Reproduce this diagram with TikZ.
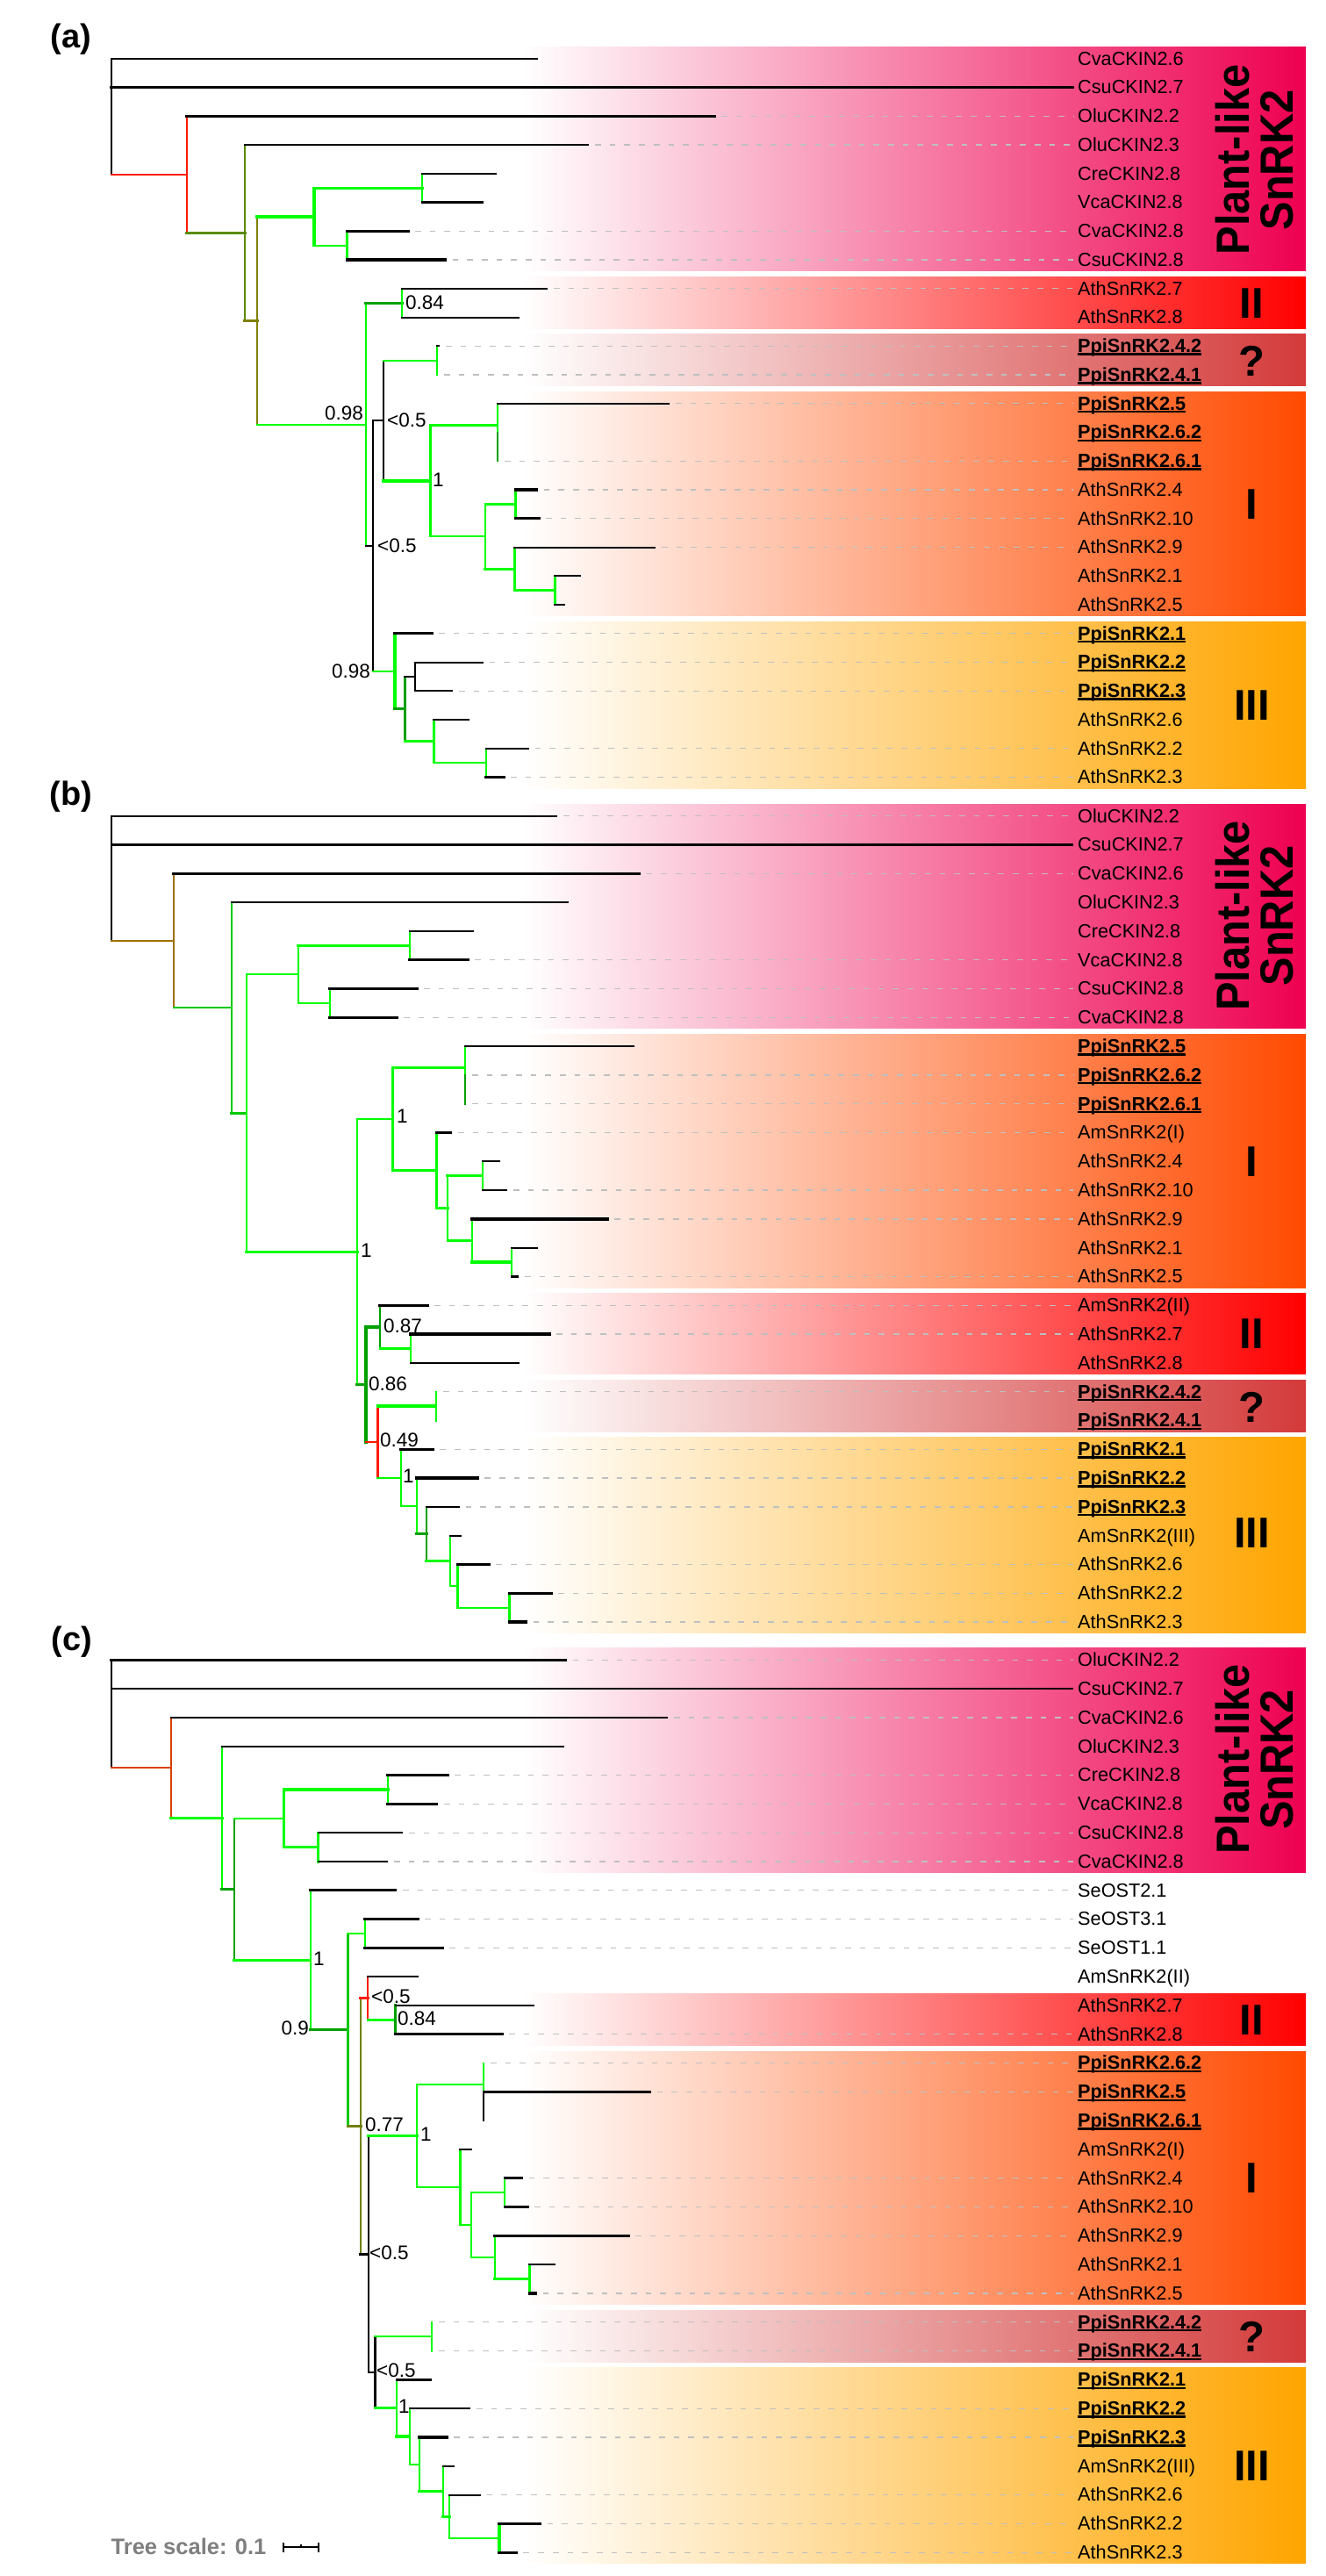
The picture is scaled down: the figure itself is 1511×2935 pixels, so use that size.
\documentclass[tikz,border=0pt]{standalone}
\usepackage{fontspec}
\usepackage{graphicx}
\setmainfont{Liberation Sans}
\definecolor{gB}{HTML}{00FF00}
\definecolor{gM}{HTML}{00C800}
\definecolor{gD}{HTML}{00A000}
\definecolor{rR}{HTML}{FF1A00}
\definecolor{olA}{HTML}{5A8C00}
\definecolor{olB}{HTML}{808000}
\definecolor{olC}{HTML}{708000}
\definecolor{brn}{HTML}{A07000}
\definecolor{orR}{HTML}{D84000}
\definecolor{bPL}{HTML}{EE0050}
\definecolor{bII}{HTML}{FF0000}
\definecolor{bQ}{HTML}{D43A3A}
\definecolor{bI}{HTML}{FF4A00}
\definecolor{bIII}{HTML}{FFA500}
\definecolor{tsg}{HTML}{7F7F7F}
\tikzset{
  br/.style={line width=2.2pt, line cap=rect},
  tk/.style={line width=3.3pt, line cap=rect},
  lbl/.style={anchor=west, inner sep=0pt, text height=14.6pt, text depth=0pt, font=\fontsize{21.7}{22}\selectfont},
  bs/.style={inner sep=0pt, font=\fontsize{22.5}{23}\selectfont},
  dsh/.style={draw=black!25, line width=1.3pt, dash pattern=on 6.7pt off 10pt},
  grp/.style={inner sep=0pt, font=\fontsize{49}{50}\selectfont\bfseries, anchor=base},
  plk/.style={inner sep=0pt, font=\fontsize{53}{54}\selectfont\bfseries, anchor=base, rotate=90},
  pan/.style={inner sep=0pt, font=\fontsize{38}{40}\selectfont\bfseries, anchor=base},
}
\newcommand\Hbr[4]{\draw[#1] (#2,#4) -- (#3,#4);}
\newcommand\Vbr[4]{\draw[#1] (#2,#3) -- (#2,#4);}
\newcommand\ppi[1]{\setbox0\hbox{\bfseries #1}\rlap{\rule[-3.2pt]{\wd0}{2.4pt}}\box0}
\newcommand\leaf[4]{\node[lbl] (#1) at (1228,#2) {#3};\if\relax\detokenize{#4}\relax\else\draw[dsh] ({#4+8},#2) -- ([xshift=-5pt]#1.west);\fi}
\newcommand\band[4]{\shade[left color=white, right color=#1] (596,#2) rectangle (1488,#3);}
\begin{document}
\begin{tikzpicture}[x=1pt,y=-1pt]
\fill[white] (0,0) rectangle (1511,2935);
\useasboundingbox (0,0) rectangle (1511,2935);
% ================= bands
\band{bPL}{53.3}{308.6}{}
\band{bII}{315.3}{374.1}{}
\band{bQ}{380.8}{439.6}{}
\band{bI}{446.3}{701.6}{}
\band{bIII}{708.3}{898.1}{}
\band{bPL}{916.2}{1171.8}{}
\band{bI}{1178.6}{1467}{}
\band{bII}{1473.8}{1565.4}{}
\band{bQ}{1572.2}{1631}{}
\band{bIII}{1637.8}{1860.6}{}
\band{bPL}{1877.9}{2133.5}{}
\band{bII}{2271.5}{2330.3}{}
\band{bI}{2337.1}{2625.5}{}
\band{bQ}{2632.3}{2691.1}{}
\band{bIII}{2697.9}{2920.7}{}
% ================= panel labels
\node[pan] (pa) at (81,54.5) {(a)};
\node[pan] (pb) at (81,917.5) {(b)};
\node[pan] (pc) at (82,1880) {(c)};
% ================= panel a leaves
\leaf{a0}{66.8}{CvaCKIN2.6}{}
\leaf{a1}{99.6}{CsuCKIN2.7}{}
\leaf{a2}{132.3}{OluCKIN2.2}{814}
\leaf{a3}{165.1}{OluCKIN2.3}{670}
\leaf{a4}{197.8}{CreCKIN2.8}{}
\leaf{a5}{230.6}{VcaCKIN2.8}{}
\leaf{a6}{263.3}{CvaCKIN2.8}{465}
\leaf{a7}{296.1}{CsuCKIN2.8}{507.5}
\leaf{a8}{328.8}{AthSnRK2.7}{623}
\leaf{a9}{361.6}{AthSnRK2.8}{}
\leaf{a10}{394.3}{\ppi{PpiSnRK2.4.2}}{500}
\leaf{a11}{427.1}{\ppi{PpiSnRK2.4.1}}{498}
\leaf{a12}{459.8}{\ppi{PpiSnRK2.5}}{762}
\leaf{a13}{492.6}{\ppi{PpiSnRK2.6.2}}{}
\leaf{a14}{525.3}{\ppi{PpiSnRK2.6.1}}{567}
\leaf{a15}{558.1}{AthSnRK2.4}{611.7}
\leaf{a16}{590.8}{AthSnRK2.10}{614}
\leaf{a17}{623.6}{AthSnRK2.9}{746}
\leaf{a18}{656.3}{AthSnRK2.1}{}
\leaf{a19}{689.1}{AthSnRK2.5}{}
\leaf{a20}{721.8}{\ppi{PpiSnRK2.1}}{492}
\leaf{a21}{754.6}{\ppi{PpiSnRK2.2}}{549.7}
\leaf{a22}{787.3}{\ppi{PpiSnRK2.3}}{514.8}
\leaf{a23}{820.1}{AthSnRK2.6}{}
\leaf{a24}{852.8}{AthSnRK2.2}{601.5}
\leaf{a25}{885.6}{AthSnRK2.3}{574}
% ================= panel a tree
\Vbr{br,black}{127}{66.8}{198.75}
\Hbr{br,black}{127}{612}{66.8}
\Hbr{tk,black}{127}{1222}{99.6}
\Hbr{br,rR}{127}{213}{198.75}
\Vbr{br,rR}{213}{132.3}{265.2}
\Hbr{tk,black}{213}{814}{132.3}
\Hbr{tk,olA}{213}{279}{265.2}
\Vbr{br,olA}{279}{165.1}{365.3}
\Hbr{br,black}{279}{670}{165.1}
\Hbr{tk,olB}{279}{293}{365.3}
\Vbr{br,olB}{293}{246.95}{483.6}
\Hbr{tk,gB}{293}{358}{246.95}
\Vbr{tk,gB}{358}{214.2}{279.7}
\Hbr{tk,gB}{358}{481}{214.2}
\Vbr{br,gB}{481}{197.8}{230.6}
\Hbr{br,black}{481}{565}{197.8}
\Hbr{br,black}{481}{550}{230.6}
\Hbr{br,gB}{358}{395.5}{279.7}
\Vbr{br,gB}{395.5}{263.3}{296.1}
\Hbr{tk,black}{395.5}{465}{263.3}
\Hbr{tk,black}{395.5}{507.5}{296.1}
\Hbr{br,gB}{293}{417}{483.6}
\Vbr{br,gB}{417}{345.2}{622.05}
\Hbr{tk,gD}{417}{458}{345.2}
\Vbr{br,gB}{458}{328.8}{361.6}
\Hbr{br,black}{458}{623}{328.8}
\Hbr{br,black}{458}{591}{361.6}
\Hbr{br,black}{417}{425}{622.05}
\Vbr{br,black}{425}{479.3}{764.8}
\Hbr{br,black}{425}{437}{479.3}
\Vbr{br,black}{437}{410.7}{547.85}
\Hbr{br,gB}{437}{498}{410.7}
\Vbr{br,gB}{498}{394.3}{427.1}
\Hbr{br,black}{498}{500}{394.3}
\Hbr{tk,gB}{437}{490.5}{547.85}
\Vbr{br,gB}{490.5}{484.4}{611.3}
\Hbr{br,gB}{490.5}{567}{484.4}
\Vbr{br,gB}{567}{459.8}{508.95}
\Vbr{br,gD}{567}{492.6}{525.3}
\Hbr{br,black}{567}{762}{459.8}
\Hbr{br,gB}{490.5}{553}{611.3}
\Vbr{br,gB}{553}{574.4}{648.15}
\Hbr{br,gB}{553}{587.5}{574.4}
\Vbr{br,gB}{587.5}{558.1}{590.8}
\Hbr{tk,black}{587.5}{611.7}{558.1}
\Hbr{tk,black}{587.5}{614}{590.8}
\Hbr{tk,gB}{553}{586.5}{648.15}
\Vbr{br,gB}{586.5}{623.6}{672.7}
\Hbr{br,black}{586.5}{746}{623.6}
\Hbr{tk,gB}{586.5}{632.5}{672.7}
\Vbr{br,gB}{632.5}{656.3}{689.1}
\Hbr{br,black}{632.5}{660.6}{656.3}
\Hbr{br,black}{632.5}{643}{689.1}
\Hbr{br,gB}{425}{450}{764.8}
\Vbr{tk,gB}{450}{721.8}{807.8}
\Hbr{tk,black}{450}{492}{721.8}
\Hbr{tk,gD}{450}{461.5}{807.8}
\Vbr{br,gD}{461.5}{770.95}{844.65}
\Hbr{br,black}{461.5}{473}{770.95}
\Vbr{br,black}{473}{754.6}{787.3}
\Hbr{br,black}{473}{549.7}{754.6}
\Hbr{br,black}{473}{514.8}{787.3}
\Hbr{tk,gB}{461.5}{494.4}{844.65}
\Vbr{br,gB}{494.4}{820.1}{869.2}
\Hbr{br,black}{494.4}{533.7}{820.1}
\Hbr{br,gB}{494.4}{554}{869.2}
\Vbr{br,gB}{554}{852.8}{885.6}
\Hbr{br,black}{554}{601.5}{852.8}
\Hbr{tk,black}{554}{574}{885.6}
\node[bs,anchor=west] (a84) at (462,344.6) {0.84};
\node[bs,anchor=east] (a98a) at (414,471) {0.98};
\node[bs,anchor=west] (a05a) at (441,478.5) {<0.5};
\node[bs,anchor=west] (a1b) at (493,547) {1};
\node[bs,anchor=west] (a05b) at (430,621.5) {<0.5};
\node[bs,anchor=east] (a98b) at (422,765) {0.98};
\node[plk] (aPL1) at (1423,182) {\scalebox{0.92}[1]{Plant-like}};
\node[plk] (aPL2) at (1473,182.5) {\scalebox{0.92}[1]{SnRK2}};
\node[grp] (aII) at (1426.5,362.2) {II};
\node[grp] (aQ) at (1426.5,428.5) {?};
\node[grp] (aI) at (1426.5,591.5) {I};
\node[grp] (aIII) at (1426.5,820.7) {III};
% ================= panel b leaves
\leaf{b0}{929.7}{OluCKIN2.2}{634}
\leaf{b1}{962.5}{CsuCKIN2.7}{}
\leaf{b2}{995.3}{CvaCKIN2.6}{728.5}
\leaf{b3}{1028.1}{OluCKIN2.3}{}
\leaf{b4}{1060.9}{CreCKIN2.8}{}
\leaf{b5}{1093.7}{VcaCKIN2.8}{533}
\leaf{b6}{1126.5}{CsuCKIN2.8}{475}
\leaf{b7}{1159.3}{CvaCKIN2.8}{452}
\leaf{b8}{1192.1}{\ppi{PpiSnRK2.5}}{}
\leaf{b9}{1224.9}{\ppi{PpiSnRK2.6.2}}{529.8}
\leaf{b10}{1257.7}{\ppi{PpiSnRK2.6.1}}{529.8}
\leaf{b11}{1290.5}{AmSnRK2(I)}{513.8}
\leaf{b12}{1323.3}{AthSnRK2.4}{}
\leaf{b13}{1356.1}{AthSnRK2.10}{576.8}
\leaf{b14}{1388.9}{AthSnRK2.9}{692}
\leaf{b15}{1421.7}{AthSnRK2.1}{}
\leaf{b16}{1454.5}{AthSnRK2.5}{590}
\leaf{b17}{1487.3}{AmSnRK2(II)}{487}
\leaf{b18}{1520.1}{AthSnRK2.7}{626}
\leaf{b19}{1552.9}{AthSnRK2.8}{}
\leaf{b20}{1585.7}{\ppi{PpiSnRK2.4.2}}{496.8}
\leaf{b21}{1618.5}{\ppi{PpiSnRK2.4.1}}{}
\leaf{b22}{1651.3}{\ppi{PpiSnRK2.1}}{493.4}
\leaf{b23}{1684.1}{\ppi{PpiSnRK2.2}}{544.3}
\leaf{b24}{1716.9}{\ppi{PpiSnRK2.3}}{522.5}
\leaf{b25}{1749.7}{AmSnRK2(III)}{}
\leaf{b26}{1782.5}{AthSnRK2.6}{557.4}
\leaf{b27}{1815.3}{AthSnRK2.2}{628}
\leaf{b28}{1848.1}{AthSnRK2.3}{599.6}
% ================= panel b tree
\Vbr{br,black}{127}{929.7}{1071.7}
\Hbr{br,black}{127}{634}{929.7}
\Hbr{br,black}{127}{1222}{962.5}
\Hbr{br,brn}{127}{198}{1071.7}
\Vbr{br,brn}{198}{995.3}{1148.15}
\Hbr{tk,black}{198}{728.5}{995.3}
\Hbr{br,gM}{198}{264}{1148.15}
\Vbr{br,gM}{264}{1028.1}{1268.2}
\Hbr{br,black}{264}{647}{1028.1}
\Hbr{tk,gM}{264}{280.6}{1268.2}
\Vbr{br,gB}{280.6}{1110.1}{1426.25}
\Hbr{br,gB}{280.6}{340}{1110.1}
\Vbr{br,gB}{340}{1077.3}{1142.9}
\Hbr{tk,gB}{340}{466.8}{1077.3}
\Vbr{br,gB}{466.8}{1060.9}{1093.7}
\Hbr{br,black}{466.8}{538.5}{1060.9}
\Hbr{tk,black}{466.8}{533}{1093.7}
\Hbr{br,gB}{340}{376}{1142.9}
\Vbr{br,gB}{376}{1126.5}{1159.3}
\Hbr{tk,black}{376}{475}{1126.5}
\Hbr{tk,black}{376}{452}{1159.3}
\Hbr{tk,gB}{280.6}{407}{1426.25}
\Vbr{br,gB}{407}{1275.1}{1577.4}
\Hbr{br,gB}{407}{447.4}{1275.1}
\Vbr{br,gB}{447.4}{1216.7}{1333.55}
\Hbr{tk,gB}{447.4}{529.8}{1216.7}
\Vbr{br,gB}{529.8}{1192.1}{1241.3}
\Vbr{br,gD}{529.8}{1224.9}{1257.7}
\Hbr{br,black}{529.8}{722}{1192.1}
\Hbr{tk,gB}{447.4}{497.8}{1333.55}
\Vbr{tk,gB}{497.8}{1290.5}{1376.6}
\Hbr{tk,black}{497.8}{513.8}{1290.5}
\Hbr{tk,gB}{497.8}{510}{1376.6}
\Vbr{br,gB}{510}{1339.7}{1413.5}
\Hbr{tk,gB}{510}{549.7}{1339.7}
\Vbr{br,gB}{549.7}{1323.3}{1356.1}
\Hbr{br,black}{549.7}{569}{1323.3}
\Hbr{br,black}{549.7}{576.8}{1356.1}
\Hbr{br,gB}{510}{538}{1413.5}
\Vbr{br,gB}{538}{1388.9}{1438.1}
\Hbr{tk,black}{538}{692}{1388.9}
\Hbr{tk,gB}{538}{582.6}{1438.1}
\Vbr{br,gB}{582.6}{1421.7}{1454.5}
\Hbr{br,black}{582.6}{611.7}{1421.7}
\Hbr{br,black}{582.6}{590}{1454.5}
\Hbr{tk,gD}{407}{417}{1577.4}
\Vbr{tk,gD}{417}{1511.9}{1642.85}
\Hbr{tk,gD}{417}{432.8}{1511.9}
\Vbr{br,gD}{432.8}{1487.3}{1536.5}
\Hbr{tk,black}{432.8}{487}{1487.3}
\Hbr{br,gB}{432.8}{468}{1536.5}
\Vbr{br,gB}{468}{1520.1}{1552.9}
\Hbr{tk,black}{468}{626}{1520.1}
\Hbr{br,black}{468}{591}{1552.9}
\Hbr{br,rR}{417}{430.4}{1642.85}
\Vbr{br,rR}{430.4}{1602.1}{1683.6}
\Hbr{tk,gB}{430.4}{496.8}{1602.1}
\Vbr{br,gB}{496.8}{1585.7}{1618.5}
\Hbr{br,gB}{430.4}{456.6}{1683.6}
\Vbr{br,gB}{456.6}{1651.3}{1715.9}
\Hbr{tk,black}{456.6}{493.4}{1651.3}
\Hbr{br,gB}{456.6}{475}{1715.9}
\Vbr{br,gB}{475}{1684.1}{1747.65}
\Hbr{tk,black}{475}{544.3}{1684.1}
\Hbr{tk,gD}{475}{486}{1747.65}
\Vbr{br,gD}{486}{1716.9}{1778.4}
\Hbr{br,black}{486}{522.5}{1716.9}
\Hbr{tk,gB}{486}{512.8}{1778.4}
\Vbr{br,gB}{512.8}{1749.7}{1807.1}
\Hbr{br,black}{512.8}{524.4}{1749.7}
\Hbr{br,gB}{512.8}{521.5}{1807.1}
\Vbr{br,gB}{521.5}{1782.5}{1831.7}
\Hbr{tk,black}{521.5}{557.4}{1782.5}
\Hbr{br,gB}{521.5}{580.7}{1831.7}
\Vbr{tk,gB}{580.7}{1815.3}{1848.1}
\Hbr{tk,black}{580.7}{628}{1815.3}
\Hbr{tk,black}{580.7}{599.6}{1848.1}
\node[bs,anchor=west] (b1a) at (452,1272) {1};
\node[bs,anchor=west] (b1b) at (411,1425) {1};
\node[bs,anchor=west] (b87) at (437,1511) {0.87};
\node[bs,anchor=west] (b86) at (420,1576.3) {0.86};
\node[bs,anchor=west] (b49) at (433,1640.7) {0.49};
\node[bs,anchor=west] (b1c) at (459,1681.5) {1};
\node[plk] (bPL1) at (1423,1043.5) {\scalebox{0.92}[1]{Plant-like}};
\node[plk] (bPL2) at (1473,1043.5) {\scalebox{0.92}[1]{SnRK2}};
\node[grp] (bI) at (1426.5,1340.3) {I};
\node[grp] (bII) at (1426.5,1536) {II};
\node[grp] (bQ) at (1426.5,1620) {?};
\node[grp] (bIII) at (1426.5,1763) {III};
% ================= panel c leaves
\leaf{c0}{1891.4}{OluCKIN2.2}{644.6}
\leaf{c1}{1924.2}{CsuCKIN2.7}{}
\leaf{c2}{1957.0}{CvaCKIN2.6}{760}
\leaf{c3}{1989.8}{OluCKIN2.3}{}
\leaf{c4}{2022.6}{CreCKIN2.8}{510}
\leaf{c5}{2055.4}{VcaCKIN2.8}{497.8}
\leaf{c6}{2088.2}{CsuCKIN2.8}{458}
\leaf{c7}{2121.0}{CvaCKIN2.8}{441}
\leaf{c8}{2153.8}{SeOST2.1}{450.8}
\leaf{c9}{2186.6}{SeOST3.1}{476}
\leaf{c10}{2219.4}{SeOST1.1}{504}
\leaf{c11}{2252.2}{AmSnRK2(II)}{}
\leaf{c12}{2285.0}{AthSnRK2.7}{}
\leaf{c13}{2317.8}{AthSnRK2.8}{572}
\leaf{c14}{2350.6}{\ppi{PpiSnRK2.6.2}}{551}
\leaf{c15}{2383.4}{\ppi{PpiSnRK2.5}}{740.6}
\leaf{c16}{2416.2}{\ppi{PpiSnRK2.6.1}}{}
\leaf{c17}{2449.0}{AmSnRK2(I)}{}
\leaf{c18}{2481.8}{AthSnRK2.4}{594.7}
\leaf{c19}{2514.6}{AthSnRK2.10}{601}
\leaf{c20}{2547.4}{AthSnRK2.9}{716}
\leaf{c21}{2580.2}{AthSnRK2.1}{}
\leaf{c22}{2613.0}{AthSnRK2.5}{610.7}
\leaf{c23}{2645.8}{\ppi{PpiSnRK2.4.2}}{492}
\leaf{c24}{2678.6}{\ppi{PpiSnRK2.4.1}}{492}
\leaf{c25}{2711.4}{\ppi{PpiSnRK2.1}}{}
\leaf{c26}{2744.2}{\ppi{PpiSnRK2.2}}{535}
\leaf{c27}{2777.0}{\ppi{PpiSnRK2.3}}{509}
\leaf{c28}{2809.8}{AmSnRK2(III)}{}
\leaf{c29}{2842.6}{AthSnRK2.6}{546.7}
\leaf{c30}{2875.4}{AthSnRK2.2}{615.6}
\leaf{c31}{2908.2}{AthSnRK2.3}{588.4}
% ================= panel c tree
\Vbr{br,black}{127}{1891.4}{2014.1}
\Hbr{tk,black}{127}{644.6}{1891.4}
\Hbr{br,black}{127}{1222}{1924.2}
\Hbr{br,orR}{127}{195}{2014.1}
\Vbr{br,orR}{195}{1957.0}{2071.2}
\Hbr{br,black}{195}{760}{1957.0}
\Hbr{tk,gB}{195}{253}{2071.2}
\Vbr{br,gB}{253}{1989.8}{2152.55}
\Hbr{br,black}{253}{642}{1989.8}
\Hbr{tk,gD}{253}{266.6}{2152.55}
\Vbr{br,gD}{266.6}{2071.8}{2233.3}
\Hbr{br,gB}{266.6}{323.8}{2071.8}
\Vbr{tk,gB}{323.8}{2039.0}{2104.6}
\Hbr{tk,gB}{323.8}{442}{2039.0}
\Vbr{br,gB}{442}{2022.6}{2055.4}
\Hbr{tk,black}{442}{510}{2022.6}
\Hbr{tk,black}{442}{497.8}{2055.4}
\Hbr{tk,gB}{323.8}{362.6}{2104.6}
\Vbr{tk,gB}{362.6}{2088.2}{2121.0}
\Hbr{br,black}{362.6}{458}{2088.2}
\Hbr{br,black}{362.6}{441}{2121.0}
\Hbr{tk,gB}{266.6}{353.8}{2233.3}
\Vbr{br,gB}{353.8}{2153.8}{2312.8}
\Hbr{tk,black}{353.8}{450.8}{2153.8}
\Hbr{tk,gD}{353.8}{396.5}{2312.8}
\Vbr{br,gM}{396.5}{2203.0}{2422.55}
\Hbr{br,gB}{396.5}{416}{2203.0}
\Vbr{br,gB}{416}{2186.6}{2219.4}
\Hbr{tk,black}{416}{476}{2186.6}
\Hbr{tk,black}{416}{504}{2219.4}
\Hbr{tk,olC}{396.5}{411}{2422.55}
\Vbr{br,olC}{411}{2276.8}{2568.3}
\Hbr{tk,rR}{411}{419.3}{2276.8}
\Vbr{br,rR}{419.3}{2252.2}{2301.4}
\Hbr{br,black}{419.3}{476}{2252.2}
\Hbr{br,gB}{419.3}{450.8}{2301.4}
\Vbr{tk,gD}{450.8}{2285.0}{2317.8}
\Hbr{br,black}{450.8}{608.3}{2285.0}
\Hbr{tk,black}{450.8}{572}{2317.8}
\Hbr{tk,black}{411}{419.7}{2568.3}
\Vbr{br,black}{419.7}{2433.6}{2702.95}
\Hbr{tk,gB}{419.7}{475}{2433.6}
\Vbr{br,gB}{475}{2375.2}{2492.05}
\Hbr{br,gB}{475}{551}{2375.2}
\Vbr{br,gB}{551}{2350.6}{2399.8}
\Vbr{br,black}{551}{2383.4}{2416.2}
\Hbr{br,black}{551}{740.6}{2383.4}
\Hbr{br,gB}{475}{524.5}{2492.05}
\Vbr{br,gB}{524.5}{2449.0}{2535.1}
\Hbr{br,black}{524.5}{537}{2449.0}
\Hbr{br,gB}{524.5}{537}{2535.1}
\Vbr{br,gB}{537}{2498.2}{2572.0}
\Hbr{br,gB}{537}{575.3}{2498.2}
\Vbr{br,gB}{575.3}{2481.8}{2514.6}
\Hbr{tk,black}{575.3}{594.7}{2481.8}
\Hbr{tk,black}{575.3}{601}{2514.6}
\Hbr{br,gB}{537}{564}{2572.0}
\Vbr{br,gB}{564}{2547.4}{2596.6}
\Hbr{tk,black}{564}{716}{2547.4}
\Hbr{tk,gB}{564}{603.4}{2596.6}
\Vbr{br,gB}{603.4}{2580.2}{2613.0}
\Hbr{br,black}{603.4}{632}{2580.2}
\Hbr{tk,black}{603.4}{610.7}{2613.0}
\Hbr{br,black}{419.7}{427.5}{2702.95}
\Vbr{br,black}{427.5}{2662.2}{2743.7}
\Hbr{br,gB}{427.5}{492}{2662.2}
\Vbr{br,gB}{492}{2645.8}{2678.6}
\Hbr{tk,gB}{427.5}{451.7}{2743.7}
\Vbr{br,gB}{451.7}{2711.4}{2775.98}
\Hbr{br,black}{451.7}{490.5}{2711.4}
\Hbr{tk,gB}{451.7}{466.8}{2775.98}
\Vbr{br,gB}{466.8}{2744.2}{2807.75}
\Hbr{br,black}{466.8}{535}{2744.2}
\Hbr{br,gB}{466.8}{478}{2807.75}
\Vbr{br,gB}{478}{2777.0}{2838.5}
\Hbr{tk,black}{478}{509}{2777.0}
\Hbr{tk,gB}{478}{504.6}{2838.5}
\Vbr{br,gB}{504.6}{2809.8}{2867.2}
\Hbr{br,black}{504.6}{516.7}{2809.8}
\Hbr{tk,gB}{504.6}{512.3}{2867.2}
\Vbr{br,gB}{512.3}{2842.6}{2891.8}
\Hbr{br,black}{512.3}{546.7}{2842.6}
\Hbr{br,gB}{512.3}{569}{2891.8}
\Vbr{tk,gB}{569}{2875.4}{2908.2}
\Hbr{tk,black}{569}{615.6}{2875.4}
\Hbr{tk,black}{569}{588.4}{2908.2}
\node[bs,anchor=west] (c1a) at (357,2231.5) {1};
\node[bs,anchor=east] (c9) at (352,2310.5) {0.9};
\node[bs,anchor=west] (c05a) at (423,2274.5) {<0.5};
\node[bs,anchor=west] (c84) at (453,2300) {0.84};
\node[bs,anchor=west] (c77) at (416,2421) {0.77};
\node[bs,anchor=west] (c1b) at (479,2431.5) {1};
\node[bs,anchor=west] (c05b) at (421,2566.5) {<0.5};
\node[bs,anchor=west] (c05c) at (429,2701) {<0.5};
\node[bs,anchor=west] (c1c) at (454,2741.5) {1};
\node[plk] (cPL1) at (1423,2004.5) {\scalebox{0.92}[1]{Plant-like}};
\node[plk] (cPL2) at (1473,2005) {\scalebox{0.92}[1]{SnRK2}};
\node[grp] (cII) at (1426.5,2318.4) {II};
\node[grp] (cI) at (1426.5,2498.8) {I};
\node[grp] (cQ) at (1426.5,2679) {?};
\node[grp] (cIII) at (1426.5,2826.8) {III};
% ================= tree scale
\node[anchor=base west, inner sep=0pt, text=tsg, font=\fontsize{25.5}{26}\selectfont\bfseries] (ts) at (126.5,2910) {Tree scale: 0.1};
\coordinate (s1) at (322.5,2902.3);
\coordinate (s2) at (362.5,2902.3);
\draw[line width=2pt] (s1) -- (s2);
\draw[line width=2pt] ([yshift=5.6pt]s1) -- ([yshift=-5.4pt]s1);
\draw[line width=2pt] ([yshift=5.6pt]s2) -- ([yshift=-5.4pt]s2);
\draw[line width=2pt] (343.3,2902.3) -- (343.3,2899.3);
\end{tikzpicture}
\end{document}
